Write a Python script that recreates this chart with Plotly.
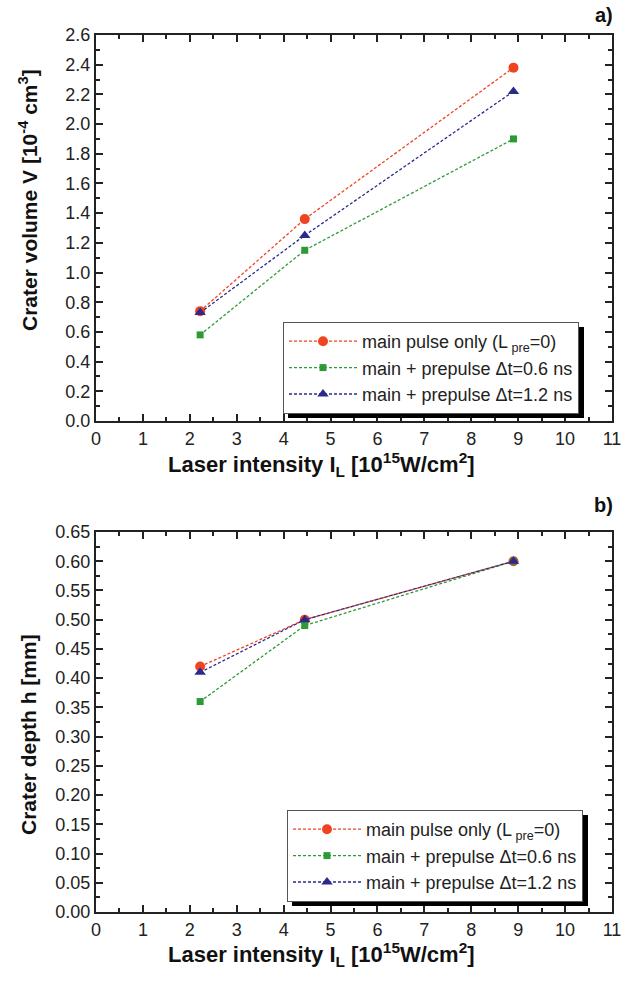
import plotly.graph_objects as go

# ---- data ----
intensity = [2.22, 4.45, 8.9]
vol_main = [0.74, 1.36, 2.38]
vol_pre06 = [0.58, 1.15, 1.90]
vol_pre12 = [0.73, 1.25, 2.22]
depth_main = [0.42, 0.50, 0.60]
depth_pre06 = [0.36, 0.49, 0.60]
depth_pre12 = [0.41, 0.50, 0.60]
names = ["main pulse only (L<sub> pre</sub>=0)",
         "main + prepulse \u0394t=0.6 ns",
         "main + prepulse \u0394t=1.2 ns"]
x_ticks = list(range(0, 12))
vol_ticks = [round(0.2 * i, 1) for i in range(14)]
depth_ticks = [round(0.05 * i, 2) for i in range(14)]

colors = ["#ee4422", "#2e9a36", "#2b2a8c"]
symbols = ["circle", "square", "triangle-up"]

FONT = "Liberation Sans, Arial, sans-serif"
fig = go.Figure()

series_top = [vol_main, vol_pre06, vol_pre12]
series_bot = [depth_main, depth_pre06, depth_pre12]
for i in range(3):
    fig.add_trace(go.Scatter(x=intensity, y=series_top[i], name=names[i], mode="lines+markers",
                             line=dict(color=colors[i], width=1.3, dash="3px,2px"),
                             marker=dict(symbol=symbols[i], size=10 if i != 1 else 7, color=colors[i]),
                             xaxis="x", yaxis="y", legend="legend"))
for i in range(3):
    fig.add_trace(go.Scatter(x=intensity, y=series_bot[i], name=names[i], mode="lines+markers",
                             line=dict(color=colors[i], width=1.3, dash="3px,2px"),
                             marker=dict(symbol=symbols[i], size=10 if i != 1 else 7, color=colors[i]),
                             xaxis="x2", yaxis="y2", legend="legend2"))
# invisible traces to carry the mirrored (top/right) axes
fig.add_trace(go.Scatter(x=[None], y=[None], xaxis="x3", yaxis="y3", showlegend=False, hoverinfo="skip"))
fig.add_trace(go.Scatter(x=[None], y=[None], xaxis="x4", yaxis="y4", showlegend=False, hoverinfo="skip"))

W, H = 634, 983
def px(xp): return xp / W
def py(yp): return 1 - yp / H

TK = "#222"
minor_x = dict(ticks="inside", ticklen=4, tickwidth=1.5, tickcolor=TK, dtick=0.5)
axis_common = dict(showline=True, linecolor=TK, linewidth=2,
                   ticks="inside", ticklen=7, tickwidth=1.5, tickcolor=TK,
                   showgrid=False, zeroline=False, automargin=False,
                   tickfont=dict(family=FONT, size=18, color="#222"))
mirror_common = {k: v for k, v in axis_common.items() if k != "tickfont"}
xdom = [px(96), px(612)]
dom_top = [py(421), py(35)]
dom_bot = [py(912), py(532)]
title_x = "<b>Laser intensity I<sub>L</sub> [10<sup>15</sup>W/cm<sup>2</sup>]</b>"
TFX = dict(family=FONT, size=22, color="#111")
TFY = dict(family=FONT, size=21, color="#111")

LEG_FONT = dict(family=FONT, size=18, color="#222")

fig.update_layout(
    width=W, height=H, margin=dict(l=0, r=0, t=0, b=0, autoexpand=False),
    paper_bgcolor="white", plot_bgcolor="white", showlegend=True,
    xaxis=dict(domain=xdom, range=[0, 11], tickvals=x_ticks, anchor="y", minor=minor_x, **axis_common),
    yaxis=dict(domain=dom_top, range=[0, 2.6], tickvals=vol_ticks, tickformat=".1f", anchor="x",
               minor=dict(ticks="inside", ticklen=4, tickwidth=1.5, tickcolor=TK, dtick=0.1),
               **axis_common),
    xaxis3=dict(domain=xdom, range=[0, 11], tickvals=x_ticks, anchor="y3", overlaying="x", side="top",
                showticklabels=False, minor=minor_x, **mirror_common),
    yaxis3=dict(domain=dom_top, range=[0, 2.6], tickvals=vol_ticks, anchor="x3", overlaying="y", side="right",
                showticklabels=False,
                minor=dict(ticks="inside", ticklen=4, tickwidth=1.5, tickcolor=TK, dtick=0.1),
                **mirror_common),
    xaxis2=dict(domain=xdom, range=[0, 11], tickvals=x_ticks, anchor="y2", minor=minor_x, **axis_common),
    yaxis2=dict(domain=dom_bot, range=[0, 0.65], tickvals=depth_ticks, tickformat=".2f", anchor="x2",
                minor=dict(ticks="inside", ticklen=4, tickwidth=1.5, tickcolor=TK, dtick=0.025),
                **axis_common),
    xaxis4=dict(domain=xdom, range=[0, 11], tickvals=x_ticks, anchor="y4", overlaying="x2", side="top",
                showticklabels=False, minor=minor_x, **mirror_common),
    yaxis4=dict(domain=dom_bot, range=[0, 0.65], tickvals=depth_ticks, anchor="x4", overlaying="y2", side="right",
                showticklabels=False,
                minor=dict(ticks="inside", ticklen=4, tickwidth=1.5, tickcolor=TK, dtick=0.025),
                **mirror_common),
    legend=dict(x=px(283), y=py(322), xanchor="left", yanchor="top",
                bgcolor="white", bordercolor="#555", borderwidth=1,
                font=LEG_FONT, tracegroupgap=0, itemwidth=68),
    legend2=dict(x=px(287), y=py(810), xanchor="left", yanchor="top",
                 bgcolor="white", bordercolor="#555", borderwidth=1,
                 font=LEG_FONT, tracegroupgap=0, itemwidth=68),
    shapes=[
        dict(type="rect", xref="paper", yref="paper", x0=px(288), x1=px(584), y0=py(418), y1=py(327),
             fillcolor="black", line=dict(width=0), layer="above"),
        dict(type="rect", xref="paper", yref="paper", x0=px(292), x1=px(588), y0=py(906), y1=py(815),
             fillcolor="black", line=dict(width=0), layer="above"),
    ],
    annotations=[
        dict(text="<b>a)</b>", x=px(615), y=py(15), xref="paper", yref="paper", showarrow=False,
             xanchor="right", yanchor="middle", font=dict(family=FONT, size=20, color="#111")),
        dict(text="<b>b)</b>", x=px(615), y=py(505), xref="paper", yref="paper", showarrow=False,
             xanchor="right", yanchor="middle", font=dict(family=FONT, size=20, color="#111")),
        dict(text=title_x, x=px(321), y=py(465), xref="paper", yref="paper", showarrow=False,
             xanchor="center", yanchor="middle", font=TFX),
        dict(text=title_x, x=px(321), y=py(954), xref="paper", yref="paper", showarrow=False,
             xanchor="center", yanchor="middle", font=TFX),
        dict(text="<b>Crater volume V [10<sup>-4</sup> cm<sup>3</sup>]</b>", x=px(28), y=py(200),
             xref="paper", yref="paper", showarrow=False, textangle=-90,
             xanchor="center", yanchor="middle", font=TFY),
        dict(text="<b>Crater depth h [mm]</b>", x=px(28), y=py(735),
             xref="paper", yref="paper", showarrow=False, textangle=-90,
             xanchor="center", yanchor="middle", font=TFY),
    ],
)

fig.write_html("out.html")
